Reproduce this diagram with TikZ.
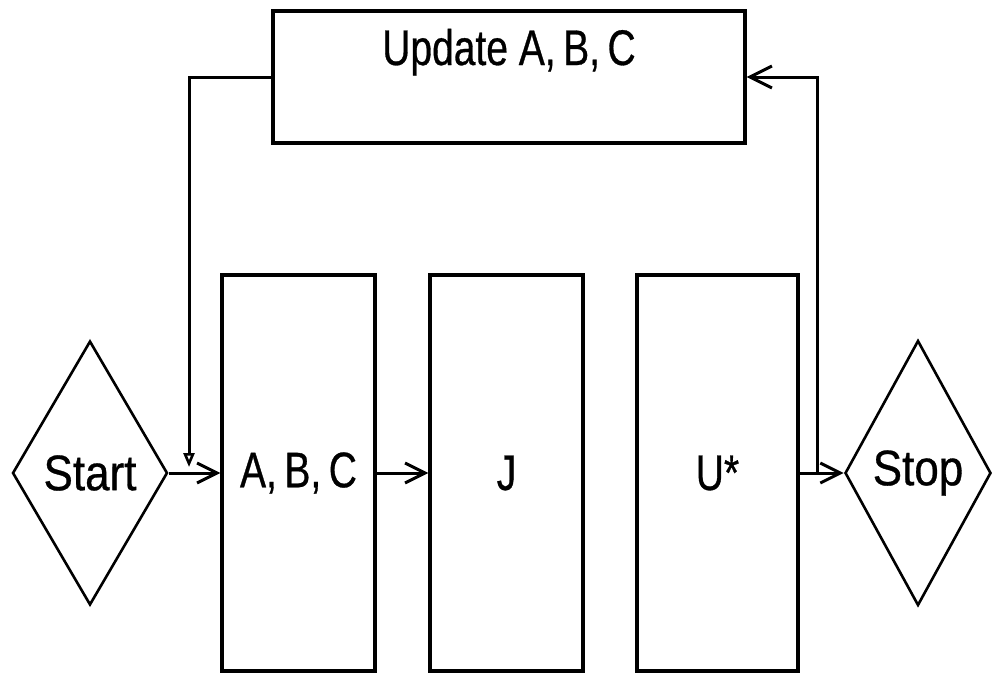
\documentclass[tikz,border=0pt]{standalone}
\usepackage{fontspec}
\newfontfamily\labelfont{Liberation Sans}[FakeStretch=0.88,FakeBold=0.6]
\newfontfamily\stagefont{Liberation Sans}[FakeStretch=0.78,FakeBold=0.6]
\usetikzlibrary{shapes.geometric,arrows.meta}
\begin{document}
\begin{tikzpicture}[x=1pt,y=-1pt,
  every node/.style={font=\labelfont\fontsize{50}{58}\selectfont},
  stage/.style={draw,line width=3.2pt,rectangle,inner sep=0pt,
    font=\stagefont\fontsize{50}{58}\selectfont},
  terminal/.style={draw,line width=2.6pt,diamond,inner sep=0pt},
  flow/.style={line width=3pt,-{Straight Barb[length=20pt,width=20pt,line width=3pt]}},
  back/.style={line width=3pt}]
\useasboundingbox (0,0) rectangle (993,673);

% terminals
\node[terminal,minimum width=155pt,minimum height=264pt] (start) at (90,473) {Start};
\node[terminal,minimum width=146pt,minimum height=265pt] (stop) at (918,473) {Stop};

% processing stages
\node[stage,minimum width=153pt,minimum height=396pt] (abc) at (298.5,473) {A,\hspace{0.15em}B,\hspace{0.15em}C};
\node[stage,minimum width=153pt,minimum height=396pt] (j) at (506.5,473) {J};
\node[stage,minimum width=161pt,minimum height=396pt] (u) at (717.5,473) {U*};
\node[stage,minimum width=472pt,minimum height=132pt,text height=36pt,text depth=60pt] (upd) at (509,77) {Update A,\hspace{0.15em}B,\hspace{0.15em}C};

% forward flow
\draw[flow] (start.east) -- (abc.west);
\draw[flow] (abc.east) -- (j.west);
\draw[flow] (u.east) -- (stop.west);

% feedback loop
\coordinate (tap) at (817,473);
\coordinate (drop) at (189,467);
\draw[back,-{Straight Barb[length=22pt,width=22pt,line width=3pt]}] (tap) |- (upd.east);
\draw[back,-{Triangle[open,length=14pt,width=11pt,line width=2.6pt]}] (upd.west) -| (drop);
\end{tikzpicture}
\end{document}
